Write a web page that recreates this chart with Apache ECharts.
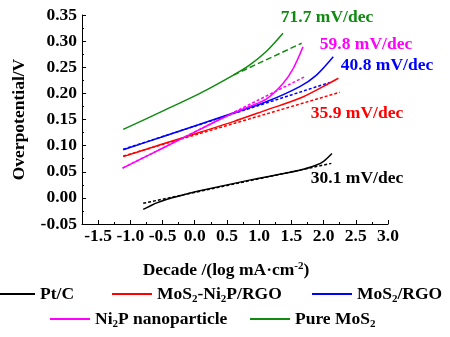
<!DOCTYPE html>
<html>
<head>
<meta charset="utf-8">
<script src="https://cdn.jsdelivr.net/npm/echarts@6/dist/echarts.min.js"></script>
<style>html,body{margin:0;padding:0;background:#fff;}#chart{width:450px;height:337px;}</style>
</head>
<body>
<div id="chart"></div>
<script>
// ---- data ----
const seriesNames = ['Pt/C', 'MoS2-Ni2P/RGO', 'MoS2/RGO', 'Ni2P nanoparticle', 'Pure MoS2'];
const seriesColors = ['#000000', '#ff0000', '#0000ff', '#ff00ff', '#108a10'];

const ptcX = [-0.80, -0.70, -0.60, -0.44, -0.20, 0.08, 0.85, 1.63, 1.89, 2.00, 2.13];
const ptcY = [-0.022, -0.016, -0.010, -0.003, 0.005, 0.0135, 0.034, 0.053, 0.063, 0.070, 0.085];
const ptcFitX = [-0.80, 2.12];
const ptcFitY = [-0.0104, 0.066];

const mnrX = [-1.11, -0.50, 0.08, 0.60, 1.11, 1.63, 1.99, 2.23];
const mnrY = [0.079, 0.103, 0.1255, 0.146, 0.168, 0.1906, 0.213, 0.229];
const mnrFitX = [-1.11, 2.25];
const mnrFitY = [0.080, 0.202];

const mrX = [-1.11, -0.50, 0.08, 0.54, 1.11, 1.63, 1.89, 2.15];
const mrY = [0.092, 0.117, 0.141, 0.160, 0.184, 0.213, 0.235, 0.270];
const mrFitX = [-1.11, 2.10];
const mrFitY = [0.093, 0.221];

const npX = [-1.12, -0.50, 0.08, 0.54, 0.85, 1.11, 1.37, 1.53, 1.68];
const npY = [0.057, 0.095, 0.131, 0.159, 0.175, 0.189, 0.219, 0.248, 0.289];
const npFitX = [-1.12, 1.71];
const npFitY = [0.057, 0.232];

const pmX = [-1.11, -0.50, 0.08, 0.60, 0.85, 1.11, 1.37];
const pmY = [0.131, 0.166, 0.200, 0.235, 0.254, 0.280, 0.315];
const pmFitX = [0.60, 1.66];
const pmFitY = [0.235, 0.296];

const slopeLabels = ['30.1 mV/dec', '35.9 mV/dec', '40.8 mV/dec', '59.8 mV/dec', '71.7 mV/dec'];

const xLabelValues = [-1.5, -1.0, -0.5, 0.0, 0.5, 1.0, 1.5, 2.0, 2.5, 3.0];
const yMin = -0.05, yMax = 0.35, yStep = 0.05;
const xMin = -1.75, xMax = 3.0, xStep = 0.25;

// ---- build ----
const FONT = '"Liberation Serif", "Times New Roman", serif';
const zip = (xs, ys) => xs.map((x, i) => [x, ys[i]]);
const solids = [[ptcX, ptcY], [mnrX, mnrY], [mrX, mrY], [npX, npY], [pmX, pmY]];
const fits = [[ptcFitX, ptcFitY], [mnrFitX, mnrFitY], [mrFitX, mrFitY], [npFitX, npFitY], [pmFitX, pmFitY]];
const dashTypes = [[3, 2], [3, 2], [3, 2], [3, 2], [6, 3]];

const richName = {
  'Pt/C': 'Pt/C',
  'MoS2-Ni2P/RGO': 'MoS{s|2}-Ni{s|2}P/RGO',
  'MoS2/RGO': 'MoS{s|2}/RGO',
  'Ni2P nanoparticle': 'Ni{s|2}P nanoparticle',
  'Pure MoS2': 'Pure MoS{s|2}'
};

const series = [];
solids.forEach((s, i) => {
  series.push({
    name: seriesNames[i], type: 'line', data: zip(s[0], s[1]), symbol: 'none', smooth: 0.3,
    lineStyle: {color: seriesColors[i], width: 1.5}, itemStyle: {color: seriesColors[i]}, z: 3
  });
});
fits.forEach((s, i) => {
  series.push({
    name: seriesNames[i] + ' fit', type: 'line', data: zip(s[0], s[1]), symbol: 'none',
    lineStyle: {color: seriesColors[i], width: 1.5, type: dashTypes[i]}, itemStyle: {color: seriesColors[i]}, z: 2
  });
});

const legendPos = [[-5, 283], [112, 283], [312, 283], [50, 308], [250, 308]];
const legendText = {
  color: '#000', fontSize: 17.5, fontWeight: 'bold', fontFamily: FONT, lineHeight: 22,
  rich: {s: {fontSize: 11, fontWeight: 'bold', fontFamily: FONT, color: '#000', verticalAlign: 'bottom', lineHeight: 10}}
};
const legends = seriesNames.map((n, i) => ({
  data: [n], left: legendPos[i][0], top: legendPos[i][1], padding: 0,
  icon: 'rect', itemWidth: 40, itemHeight: 2, itemGap: 0,
  formatter: name => richName[name], textStyle: legendText, selectedMode: false
}));

const labelPos = [[357, 178], [357, 113], [387, 65], [366, 44], [327, 17]];
const graphics = slopeLabels.map((t, i) => ({
  type: 'text', x: labelPos[i][0], y: labelPos[i][1], z: 10,
  style: {text: t, fill: seriesColors[i], font: 'bold 17.5px ' + FONT, align: 'center', verticalAlign: 'middle', textAlign: 'center', textVerticalAlign: 'middle'}
}));

const axisFont = {color: '#000', fontSize: 17.5, fontWeight: 'bold', fontFamily: FONT};

const option = {
  animation: false,
  backgroundColor: '#fff',
  grid: {left: 82, right: 62, top: 15, bottom: 113, containLabel: false},
  xAxis: [{
    type: 'value', min: xMin, max: xMax, interval: xStep,
    name: 'Decade /(log mA·cm{s|-2})', nameLocation: 'middle', nameGap: 37,
    nameTextStyle: Object.assign({}, axisFont, {padding: [0, 18, 0, 0], rich: {s: {fontSize: 11, fontWeight: 'bold', fontFamily: FONT, color: '#000', verticalAlign: 'top', lineHeight: 10}}}),
    axisLine: {onZero: false, lineStyle: {color: '#000', width: 1}},
    axisTick: {inside: true, length: 2, lineStyle: {color: '#000'}},
    axisLabel: Object.assign({}, axisFont, {margin: 3, interval: 0, customValues: xLabelValues,
      formatter: v => (Math.abs(Math.round(v * 2) - v * 2) < 1e-6) ? v.toFixed(1) : ''}),
    splitLine: {show: false}
  }, {
    type: 'value', min: xMin, max: xMax, interval: xStep, position: 'bottom',
    axisLine: {show: false, onZero: false},
    axisTick: {inside: true, length: 4, customValues: xLabelValues, lineStyle: {color: '#000'}},
    axisLabel: {show: false}, splitLine: {show: false}
  }],
  yAxis: {
    type: 'value', min: yMin, max: yMax, interval: yStep,
    name: 'Overpotential/V', nameLocation: 'middle', nameGap: 54, nameTextStyle: axisFont,
    axisLine: {show: true, onZero: false, lineStyle: {color: '#000', width: 1}},
    axisTick: {inside: true, length: 4, lineStyle: {color: '#000'}},
    minorTick: {show: true, splitNumber: 2, length: 2, lineStyle: {color: '#000'}},
    axisLabel: Object.assign({}, axisFont, {margin: 5, formatter: v => v.toFixed(2)}),
    splitLine: {show: false}
  },
  legend: legends,
  graphic: graphics,
  series: series
};

const chart = echarts.init(document.getElementById('chart'), null, {renderer: 'canvas'});
chart.setOption(option);
</script>
</body>
</html>
